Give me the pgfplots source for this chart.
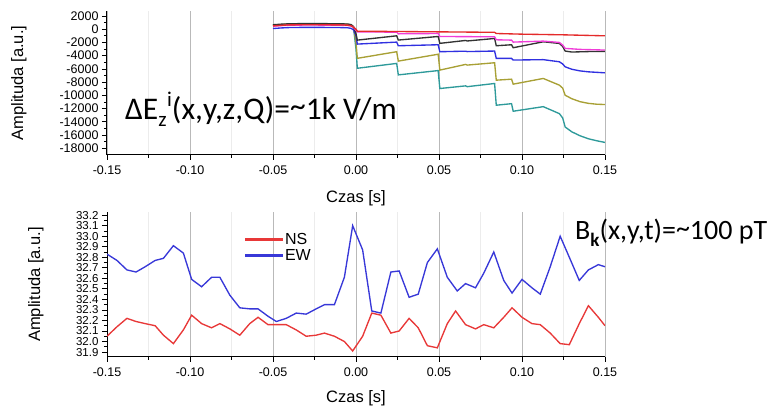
\documentclass[border=0pt]{standalone}
\usepackage{pgfplots}
\pgfplotsset{compat=1.18}
\usepackage{fontspec}
\setmainfont{Liberation Sans}
\newfontfamily\calibri{Carlito}

\definecolor{cRed}{HTML}{E42A2A}
\definecolor{cMag}{HTML}{F03CD8}
\definecolor{cBlk}{HTML}{333333}
\definecolor{cBlu}{HTML}{3030E0}
\definecolor{cOli}{HTML}{A8A035}
\definecolor{cTea}{HTML}{2E9A9A}
\definecolor{nsRed}{HTML}{E83838}
\definecolor{ewBlu}{HTML}{3838D8}

\tikzset{ln/.style={line width=1.35pt}}

\pgfplotsset{
  chartbase/.style={
    scale only axis, width=498pt,
    xmin=-0.15, xmax=0.15,
    xtick={-0.15,-0.10,...,0.16},
    minor x tick num=1,
    axis x line*=bottom, axis y line*=left,
    x axis line style={-, line width=1pt},
    y axis line style={-, line width=1pt},
    tick align=outside,
    major tick length=5pt, minor tick length=3pt,
    tick style={black, line width=0.8pt},
    xmajorgrids=true, xminorgrids=true,
    major grid style={gray!55, line width=0.8pt},
    minor grid style={gray!15, line width=0.8pt},
    /pgf/number format/assume math mode=true,
    xticklabel style={font=\fontsize{12.5}{14}\selectfont, /pgf/number format/fixed, /pgf/number format/zerofill, /pgf/number format/precision=2, yshift=-2pt},
    scaled x ticks=false,
    label style={font=\fontsize{16.5}{19}\selectfont},
  },
}

\begin{document}
\begin{tikzpicture}
\useasboundingbox (0,0) rectangle (772pt,411pt);

% top panel
\begin{axis}[chartbase,
  at={(107pt,256pt)}, height=144pt,
  ymin=-19000, ymax=2750,
  ytick={-18000,-16000,...,2000},
  minor y tick num=1,
  scaled y ticks=false,
  yticklabel style={font=\fontsize{12.5}{14}\selectfont, /pgf/number format/1000 sep={}},
  xlabel={Czas [s]}, ylabel={Amplituda [a.u.]},
  xlabel style={at={(axis description cs:0.5,-0.297)}, anchor=center},
  ylabel style={at={(axis description cs:-0.177,0.5)}, anchor=center},
]
\addplot[cTea, ln] coordinates {(-0.05,570) (-0.045,660) (-0.04,720) (-0.03,750) (-0.02,740) (-0.01,720) (-0.005,680) (-0.003,600) (-0.0015,300) (0,-3000) (0.0008,-5900) (0.0245,-5170) (0.0255,-6900) (0.0495,-6250) (0.0505,-8960) (0.066,-8560) (0.067,-8680) (0.0835,-8200) (0.0845,-11480) (0.0937,-11250) (0.0947,-12390) (0.1128,-11700) (0.1225,-12750) (0.1245,-13400) (0.126,-14770) (0.13,-15500) (0.135,-16100) (0.14,-16550) (0.145,-16850) (0.15,-17100)};
\addplot[cOli, ln] coordinates {(-0.05,610) (-0.045,700) (-0.04,760) (-0.03,790) (-0.02,780) (-0.01,760) (-0.005,720) (-0.003,640) (-0.0015,360) (0,-2000) (0.0008,-4400) (0.0245,-3400) (0.0255,-4820) (0.0495,-3780) (0.0505,-6180) (0.066,-5320) (0.067,-5420) (0.0835,-5070) (0.0845,-7700) (0.0937,-7550) (0.0947,-8300) (0.1128,-7440) (0.1225,-8450) (0.1245,-8900) (0.126,-9970) (0.13,-10500) (0.135,-10950) (0.14,-11200) (0.145,-11330) (0.15,-11380)};
\addplot[cBlu, ln] coordinates {(-0.05,100) (-0.045,190) (-0.04,250) (-0.03,280) (-0.02,270) (-0.01,250) (-0.005,210) (-0.003,130) (-0.0015,-100) (0,-1000) (0.0008,-2250) (0.0245,-1950) (0.0255,-2500) (0.0495,-2350) (0.0505,-3400) (0.066,-3320) (0.067,-3380) (0.0835,-3300) (0.0845,-4410) (0.0937,-4400) (0.0947,-4660) (0.1128,-4600) (0.1225,-4920) (0.1245,-5250) (0.126,-5680) (0.13,-6050) (0.135,-6300) (0.14,-6440) (0.15,-6590)};
\addplot[cBlk, ln] coordinates {(-0.05,670) (-0.045,760) (-0.04,820) (-0.03,850) (-0.02,840) (-0.01,820) (-0.005,780) (-0.003,700) (-0.0015,400) (0,-700) (0.0008,-1650) (0.0245,-1000) (0.0255,-1640) (0.0495,-1100) (0.0505,-2140) (0.066,-1700) (0.067,-1780) (0.0835,-1400) (0.0845,-2500) (0.0937,-2350) (0.0947,-2800) (0.1128,-1900) (0.1225,-2150) (0.1245,-2600) (0.126,-3300) (0.13,-3450) (0.14,-3380) (0.15,-3350)};
\addplot[cMag, ln] coordinates {(-0.05,450) (-0.045,540) (-0.04,600) (-0.03,630) (-0.02,620) (-0.01,600) (-0.005,560) (-0.003,480) (-0.0015,300) (0,-200) (0.0008,-400) (0.0245,-450) (0.0255,-700) (0.0495,-650) (0.0505,-1100) (0.0835,-1150) (0.0845,-1600) (0.0937,-1650) (0.0947,-1950) (0.1128,-1800) (0.1225,-2000) (0.1245,-2400) (0.126,-2900) (0.135,-3050) (0.15,-3150)};
\addplot[cRed, ln] coordinates {(-0.05,500) (-0.045,590) (-0.04,650) (-0.03,680) (-0.02,670) (-0.01,650) (-0.005,610) (-0.003,530) (-0.0015,300) (0,0) (0.0008,-300) (0.05,-400) (0.0835,-470) (0.0845,-650) (0.1,-750) (0.125,-850) (0.15,-1000)};
\end{axis}

% bottom panel
\begin{axis}[chartbase,
  at={(107pt,54pt)}, height=145pt,
  ymin=31.853, ymax=33.23,
  ytick={31.9,32.0,...,33.25},
  minor y tick num=1,
  yticklabel style={font=\fontsize{11.5}{12}\selectfont, /pgf/number format/fixed, /pgf/number format/zerofill, /pgf/number format/precision=1},
  xlabel={Czas [s]}, ylabel={Amplituda [a.u.]},
  xlabel style={at={(axis description cs:0.5,-0.283)}, anchor=center},
  ylabel style={at={(axis description cs:-0.143,0.5)}, anchor=center},
  legend style={at={(rel axis cs:0.27,0.885)}, anchor=north west, draw=none, fill=none,
    font=\fontsize{16}{18}\selectfont, row sep=0pt},
  legend cell align=left,
  legend image code/.code={\fill[#1] (0pt,-0.67pt) rectangle (37pt,0.67pt);},
]
\addplot[nsRed, ln] coordinates {(-0.150,32.05) (-0.144,32.14) (-0.138,32.22) (-0.1325,32.19) (-0.127,32.17) (-0.121,32.15) (-0.116,32.06) (-0.110,31.98) (-0.104,32.11) (-0.099,32.25) (-0.093,32.17) (-0.087,32.13) (-0.082,32.17) (-0.076,32.12) (-0.070,32.06) (-0.064,32.17) (-0.059,32.23) (-0.053,32.16) (-0.048,32.16) (-0.042,32.16) (-0.036,32.11) (-0.030,32.05) (-0.024,32.06) (-0.019,32.08) (-0.013,32.05) (-0.007,32.00) (-0.002,31.91) (0.004,32.05) (0.0095,32.27) (0.015,32.25) (0.021,32.08) (0.026,32.10) (0.032,32.22) (0.0375,32.13) (0.043,31.96) (0.049,31.94) (0.055,32.17) (0.060,32.29) (0.066,32.16) (0.072,32.12) (0.077,32.16) (0.083,32.13) (0.089,32.23) (0.094,32.32) (0.100,32.23) (0.106,32.17) (0.111,32.16) (0.117,32.08) (0.123,31.98) (0.1285,31.97) (0.1345,32.17) (0.140,32.34) (0.146,32.23) (0.150,32.15)};
\addlegendentry{NS}
\addplot[ewBlu, ln] coordinates {(-0.150,32.83) (-0.144,32.77) (-0.138,32.68) (-0.1325,32.66) (-0.127,32.71) (-0.121,32.77) (-0.116,32.79) (-0.110,32.91) (-0.104,32.84) (-0.099,32.59) (-0.093,32.52) (-0.087,32.61) (-0.082,32.61) (-0.076,32.44) (-0.070,32.32) (-0.064,32.31) (-0.059,32.31) (-0.053,32.24) (-0.048,32.19) (-0.042,32.22) (-0.036,32.27) (-0.030,32.26) (-0.024,32.31) (-0.019,32.35) (-0.013,32.35) (-0.007,32.61) (-0.002,33.10) (0.004,32.87) (0.0095,32.29) (0.015,32.27) (0.021,32.66) (0.026,32.67) (0.032,32.42) (0.0375,32.45) (0.043,32.75) (0.049,32.88) (0.055,32.61) (0.061,32.48) (0.066,32.55) (0.072,32.51) (0.077,32.65) (0.083,32.85) (0.089,32.58) (0.094,32.46) (0.100,32.59) (0.106,32.51) (0.111,32.45) (0.117,32.71) (0.123,33.00) (0.1285,32.80) (0.1345,32.58) (0.140,32.68) (0.146,32.73) (0.150,32.71)};
\addlegendentry{EW}
\end{axis}

\node[anchor=base west, inner sep=0pt, font=\calibri\fontsize{31.5}{36}\selectfont] at (125pt,291pt)
  {ΔE\raisebox{-0.22em}{\fontsize{21}{24}\selectfont z}\kern0.5pt\raisebox{0.42em}{\fontsize{21}{24}\selectfont i}(x,y,z,Q)=\raisebox{0.1em}{\char`\~}1k V/m};
\node[anchor=base west, inner sep=0pt, font=\calibri\fontsize{28}{32}\selectfont] at (575pt,171pt)
  {B\raisebox{-0.22em}{\fontsize{19}{22}\selectfont\bfseries k}(x,y,t)=\raisebox{0.1em}{\char`\~}100 pT};
\end{tikzpicture}
\end{document}
